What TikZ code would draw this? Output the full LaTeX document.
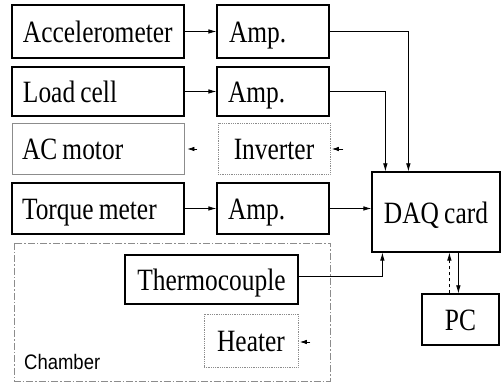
\documentclass[tikz,border=0pt]{standalone}
\usepackage{fontspec}
\usetikzlibrary{arrows.meta,calc}
\newfontfamily\tmsfont[FakeStretch=0.82,WordSpace=0.82]{Liberation Serif}
\newfontfamily\chfont[FakeStretch=0.88,WordSpace=0.88]{Liberation Sans}
\begin{document}
\begin{tikzpicture}[x=1pt,y=-1pt,
  box/.style={draw=black,line width=1.2pt,inner sep=0pt,text height=28pt,text depth=5pt,font=\fontsize{31}{31}\tmsfont},
  leftbox/.style={box,align=flush left,text width=#1},
  graybox/.style={box,draw=black!45,line width=0.8pt},
  dotbox/.style={box,draw=black!45,line width=0.8pt,densely dotted},
  arr/.style={draw=black,line width=0.7pt,-{Latex[length=8pt,width=4.5pt]}},
  stub/.style={draw=black,line width=0.7pt,-{Latex[length=7pt,width=4.5pt]}},
  chamberline/.style={draw=black!45,line width=0.9pt,dash pattern=on 7pt off 2pt on 1.5pt off 2pt}
]
\useasboundingbox (0,0) rectangle (504,382);
% chamber
\draw[chamberline] (14,243) rectangle (330,381);
\node[anchor=base west,font=\fontsize{21}{21}\chfont,inner sep=0pt] (chlabel) at (24,370) {Chamber};
% left column
\node[leftbox=150pt,minimum width=172pt,minimum height=53pt] (acc) at (98,31.5) {Accelerometer};
\node[leftbox=150pt,minimum width=172pt,minimum height=49pt] (load) at (98,91.5) {Load cell};
\node[graybox,align=flush left,text width=152pt,minimum width=172pt,minimum height=51pt] (acm) at (98,148.5) {AC motor};
\node[leftbox=152pt,minimum width=172pt,minimum height=51pt] (torq) at (98,208.5) {Torque meter};
% amp column
\node[leftbox=88pt,minimum width=112pt,minimum height=53pt] (amp1) at (273,31.5) {Amp.};
\node[leftbox=90pt,minimum width=112pt,minimum height=49pt] (amp2) at (273,91.5) {Amp.};
\node[dotbox,minimum width=112pt,minimum height=51pt] (inv) at (274,148.5) {Inverter};
\node[leftbox=90pt,minimum width=112pt,minimum height=51pt] (amp3) at (273,208.5) {Amp.};
% right
\node[box,minimum width=128pt,minimum height=80pt] (daq) at (436,212) {DAQ card};
\node[box,minimum width=77pt,minimum height=51pt] (pc) at (460.5,319.5) {PC};
% chamber contents
\node[box,minimum width=173pt,minimum height=49pt] (thermo) at (211.5,279.5) {Thermocouple};
\node[dotbox,minimum width=94pt,minimum height=53pt] (heater) at (251,340.5) {Heater};
% connectors
\draw[arr] (acc.east) -- (amp1.west);
\draw[arr] (load.east) -- (amp2.west);
\draw[arr] (torq.east) -- (amp3.west);
\draw[arr] (amp1.east) -| ($(daq.north west)+(37,0)$);
\draw[arr] (amp2.east) -| ($(daq.north west)+(14,0)$);
\draw[arr] (amp3.east) -- (amp3.east -| daq.west);
\draw[arr] ($(thermo.east)+(0,-3.5)$) -| ($(daq.south west)+(11,0)$);
\coordinate (pcup) at ($(pc.north west)+(28,0)$);
\draw[arr,dashed] (pcup) -- (pcup |- daq.south);
\coordinate (pcdn) at ($(daq.south west)+(87,0)$);
\draw[arr] (pcdn) -- (pcdn |- pc.north);
% stubs
\coordinate (s1) at ($(acm.east)+(13,0.5)$);
\draw[stub] (s1) -- ($(acm.east)+(3,0.5)$);
\coordinate (s2) at ($(inv.east)+(13,0.5)$);
\draw[stub] (s2) -- ($(inv.east)+(1.5,0.5)$);
\coordinate (s3) at ($(heater.east)+(12,1.5)$);
\draw[stub] (s3) -- ($(heater.east)+(1.5,1.5)$);
\end{tikzpicture}
\end{document}
